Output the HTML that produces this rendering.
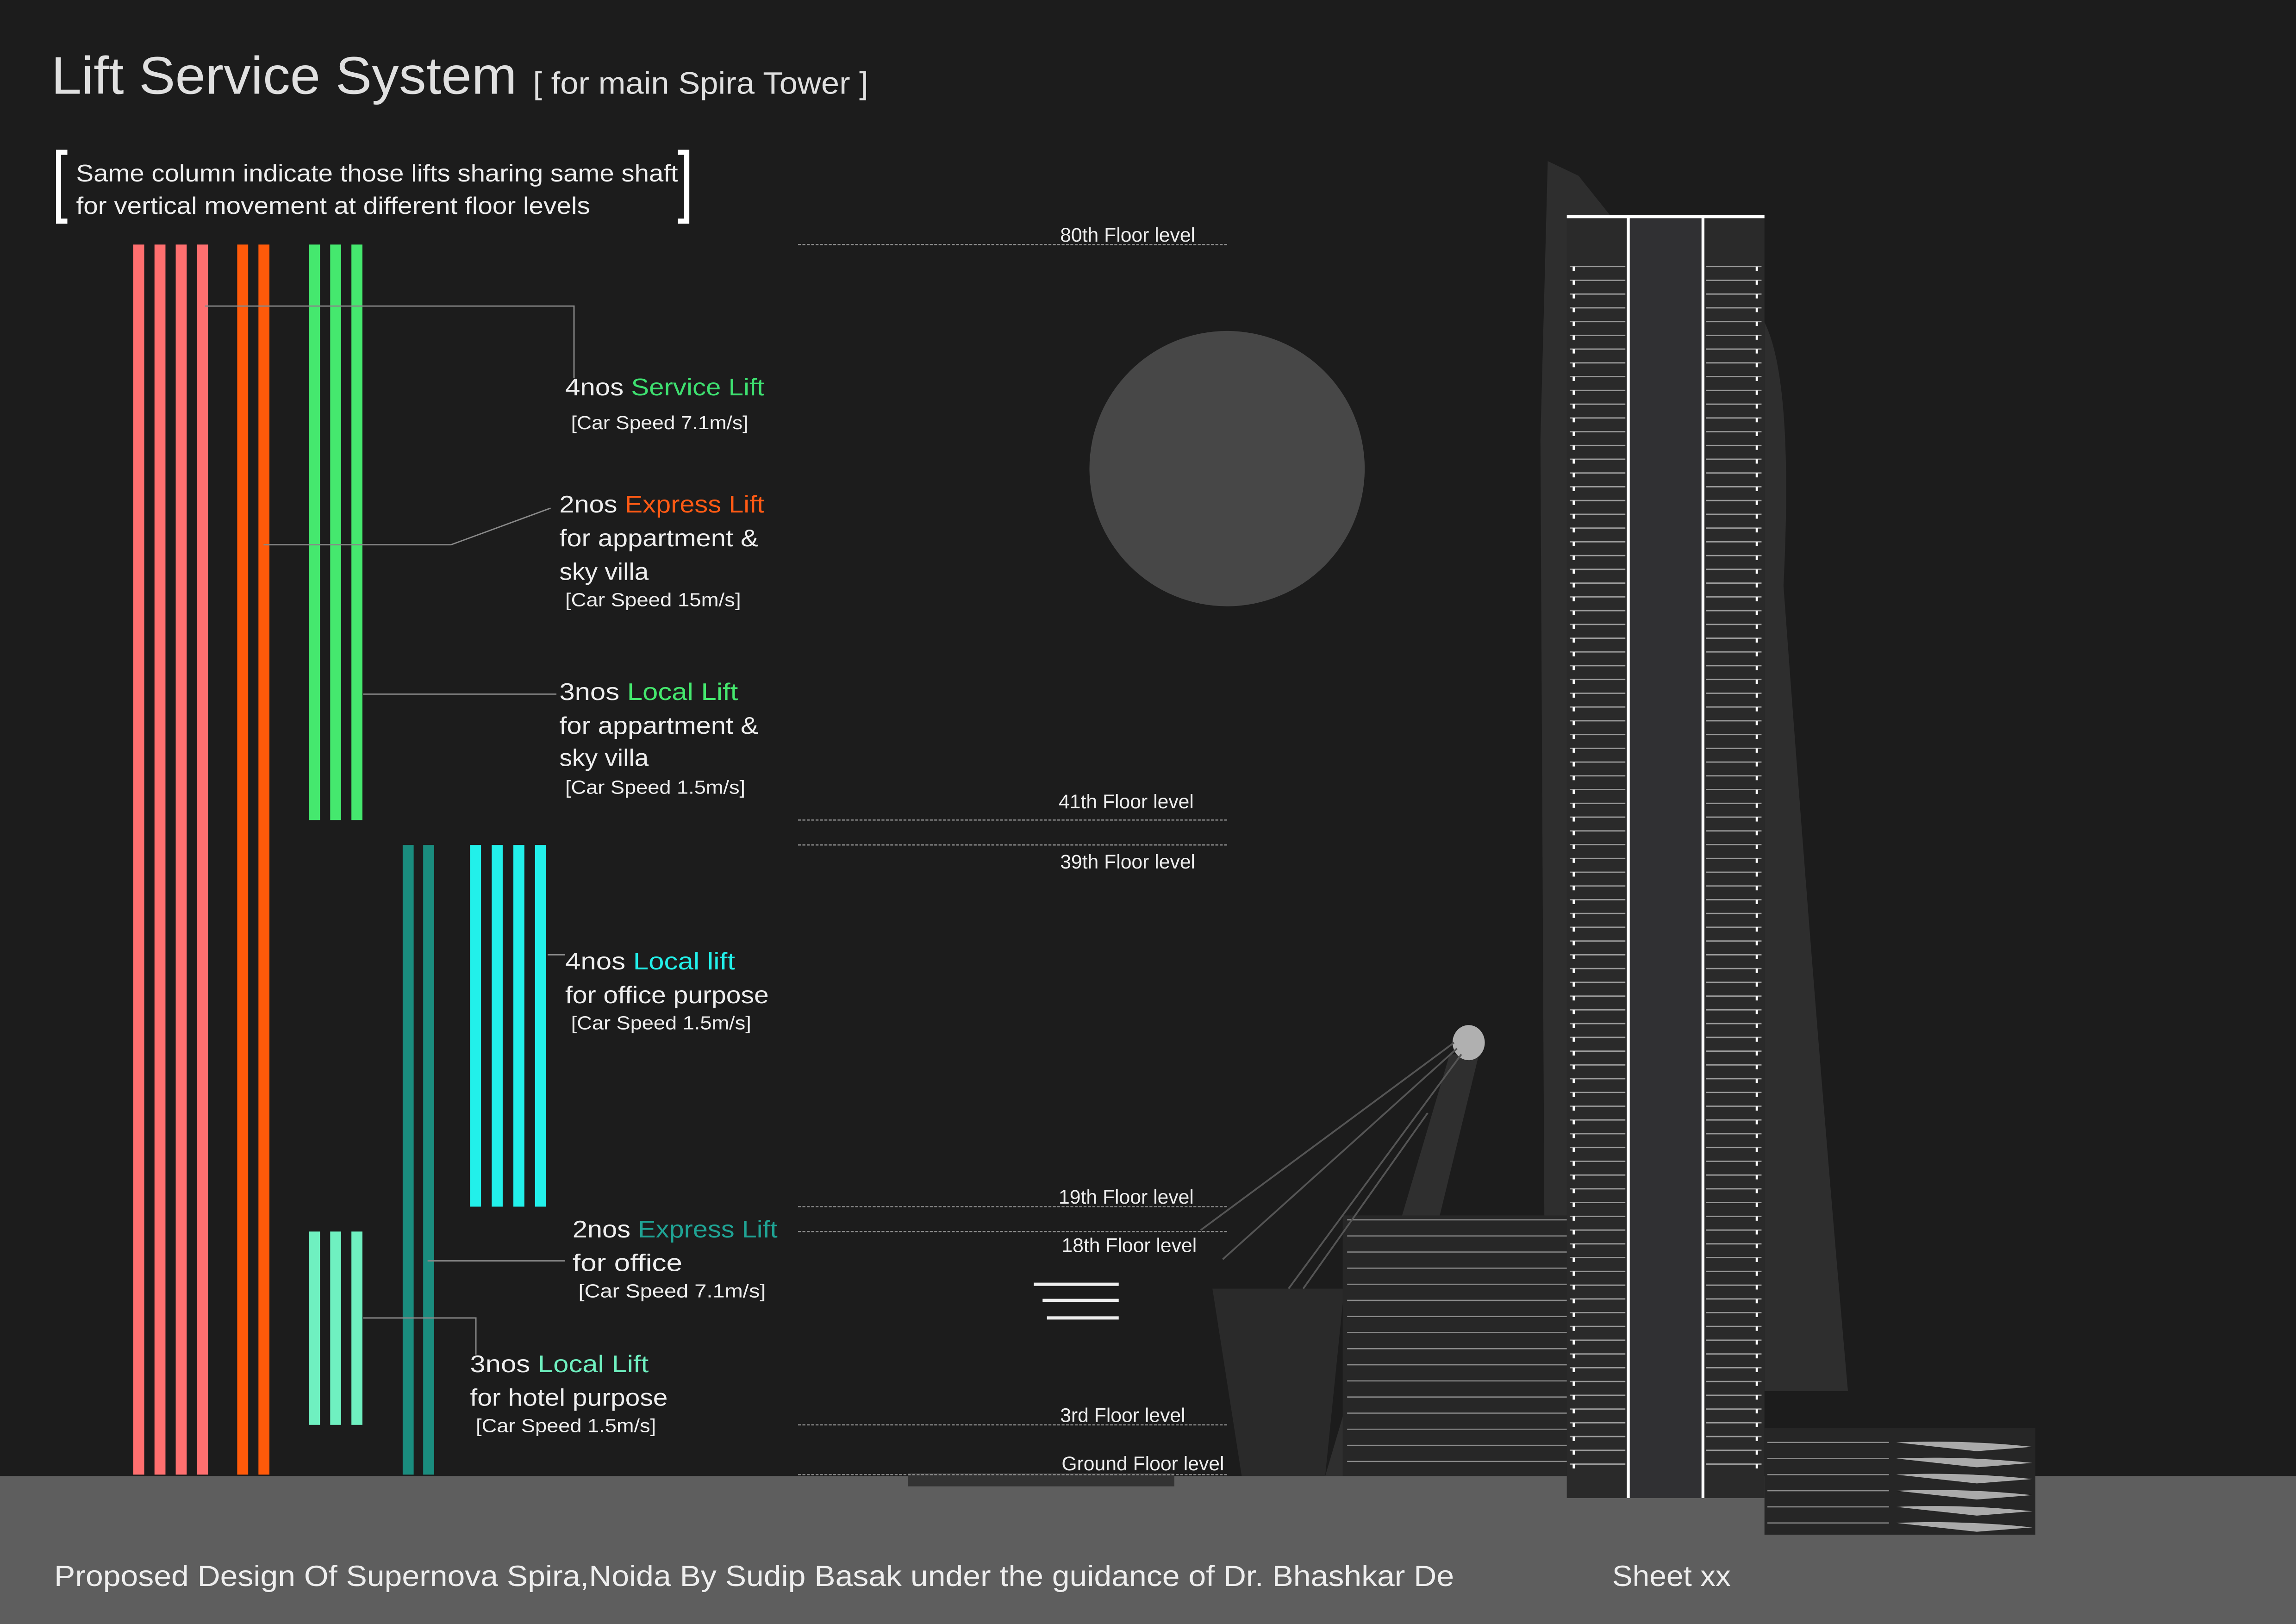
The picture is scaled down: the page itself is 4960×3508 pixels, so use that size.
<!DOCTYPE html>
<html><head><meta charset="utf-8"><style>
html,body{margin:0;padding:0;background:#1c1c1c;}
svg{display:block;}
text{font-family:"Liberation Sans",sans-serif;}
</style></head><body>
<svg id="c" width="4960" height="3508" viewBox="0 0 1568 1109" preserveAspectRatio="none" xmlns="http://www.w3.org/2000/svg">
<rect x="0" y="0" width="1568" height="1109" fill="#1c1c1c"/>
<rect x="0" y="1008" width="1568" height="101" fill="#5e5e5e"/>
<text x="35" y="64" font-size="36" fill="#e0e0e0" textLength="318" lengthAdjust="spacingAndGlyphs">Lift Service System</text>
<text x="364" y="64" font-size="21" fill="#e0e0e0" textLength="229" lengthAdjust="spacingAndGlyphs">[ for main Spira Tower ]</text>
<g>
<path d="M46,104 H40 V151 H46" stroke="#fff" stroke-width="3.5" fill="none"/>
<path d="M463,104 H469 V151 H463" stroke="#fff" stroke-width="3.5" fill="none"/>
<text x="52" y="124" font-size="16.5" fill="#eee" textLength="411" lengthAdjust="spacingAndGlyphs">Same column indicate those lifts sharing same shaft</text>
<text x="52" y="146" font-size="16.5" fill="#eee" textLength="351" lengthAdjust="spacingAndGlyphs">for vertical movement at different floor levels</text>
</g>
<circle cx="838" cy="320" r="94" fill="#474747"/>
<g>
<polygon points="1057,110 1078,120 1110,160 1070,1000 1055,900 1052,300" fill="#2e2e2e"/>
<path d="M1205,220 Q1225,260 1218,400 Q1240,700 1262,950 L1205,950 Z" fill="#2e2e2e"/>
<polygon points="990,720 1010,720 940,1008 905,1008" fill="#2f2f2f"/>
<polygon points="828,880 918,880 905,1008 848,1008" fill="#2a2a2a"/>
</g>
<g id="tower">
<rect x="1070" y="147" width="135" height="876" fill="#2a2a2a"/>
<rect x="1113" y="147" width="50" height="876" fill="#303033"/>
<rect x="917" y="830" width="153" height="178" fill="#272727"/>
<rect x="1205" y="975" width="185" height="73" fill="#262626"/>
<rect x="620" y="1006" width="182" height="9" fill="#333"/>
<line x1="1070" y1="148" x2="1205" y2="148" stroke="#fff" stroke-width="2"/>
<line x1="1112" y1="147" x2="1112" y2="1023" stroke="#fff" stroke-width="2"/>
<line x1="1163" y1="147" x2="1163" y2="1023" stroke="#fff" stroke-width="2"/>
</g>
<g id="tlines"></g>
<ellipse cx="1003" cy="712" rx="11" ry="12" fill="#b0b0b0"/>
<g stroke="#555" stroke-width="1.2">
<line x1="993" y1="712" x2="820" y2="840"/><line x1="995" y1="716" x2="835" y2="860"/>
<line x1="998" y1="720" x2="880" y2="880"/><line x1="975" y1="760" x2="890" y2="880"/>
</g>
<g stroke="#eee" stroke-width="2.2">
<line x1="706" y1="877" x2="764" y2="877"/><line x1="712" y1="888" x2="764" y2="888"/><line x1="715" y1="900" x2="764" y2="900"/>
</g>
<g id="levels"></g>
<g id="bars"></g>
<g stroke="#888" stroke-width="0.9" fill="none">
<polyline points="140,209 392,209 392,258"/>
<polyline points="180,372 308,372 376,347"/>
<polyline points="248,474 380,474"/>
<polyline points="374,652 386,652"/>
<polyline points="292,861 386,861"/>
<polyline points="248,900 325,900 325,925"/>
</g>
<g font-size="16.5" fill="#eee">
<text x="386" y="270" textLength="136" lengthAdjust="spacingAndGlyphs">4nos <tspan fill="#3ee070">Service Lift</tspan></text>
<text x="390" y="293" font-size="13" textLength="121" lengthAdjust="spacingAndGlyphs">[Car Speed 7.1m/s]</text>
<text x="382" y="350" textLength="140" lengthAdjust="spacingAndGlyphs">2nos <tspan fill="#ff5a14">Express Lift</tspan></text>
<text x="382" y="373" textLength="136" lengthAdjust="spacingAndGlyphs">for appartment &amp;</text><text x="382" y="396" textLength="61" lengthAdjust="spacingAndGlyphs">sky villa</text>
<text x="386" y="414" font-size="13" textLength="120" lengthAdjust="spacingAndGlyphs">[Car Speed 15m/s]</text>
<text x="382" y="478" textLength="122" lengthAdjust="spacingAndGlyphs">3nos <tspan fill="#45e86e">Local Lift</tspan></text>
<text x="382" y="501" textLength="136" lengthAdjust="spacingAndGlyphs">for appartment &amp;</text><text x="382" y="523" textLength="61" lengthAdjust="spacingAndGlyphs">sky villa</text>
<text x="386" y="542" font-size="13" textLength="123" lengthAdjust="spacingAndGlyphs">[Car Speed 1.5m/s]</text>
<text x="386" y="662" textLength="116" lengthAdjust="spacingAndGlyphs">4nos <tspan fill="#22f0ea">Local lift</tspan></text>
<text x="386" y="685" textLength="139" lengthAdjust="spacingAndGlyphs">for office purpose</text>
<text x="390" y="703" font-size="13" textLength="123" lengthAdjust="spacingAndGlyphs">[Car Speed 1.5m/s]</text>
<text x="391" y="845" textLength="140" lengthAdjust="spacingAndGlyphs">2nos <tspan fill="#1fa394">Express Lift</tspan></text>
<text x="391" y="868" textLength="75" lengthAdjust="spacingAndGlyphs">for office</text>
<text x="395" y="886" font-size="13" textLength="128" lengthAdjust="spacingAndGlyphs">[Car Speed 7.1m/s]</text>
<text x="321" y="937" textLength="122" lengthAdjust="spacingAndGlyphs">3nos <tspan fill="#6ff0c0">Local Lift</tspan></text>
<text x="321" y="960" textLength="135" lengthAdjust="spacingAndGlyphs">for hotel purpose</text>
<text x="325" y="978" font-size="13" textLength="123" lengthAdjust="spacingAndGlyphs">[Car Speed 1.5m/s]</text>
</g>
<text x="37" y="1083" font-size="20" fill="#eee" textLength="956" lengthAdjust="spacingAndGlyphs">Proposed Design Of Supernova Spira,Noida By Sudip Basak under the guidance of Dr. Bhashkar De</text>
<text x="1101" y="1083" font-size="20" fill="#eee" textLength="81" lengthAdjust="spacingAndGlyphs">Sheet xx</text>
</svg>
<script>
const levelFloors=[0,3,18,19,39,41,80];
const levelLabels=["Ground Floor level","3rd Floor level","18th Floor level","19th Floor level","39th Floor level","41th Floor level","80th Floor level"];
const levelY=[1007,973,841,824,577,560,167];
const liftNames=["service","express-apartment","local-apartment","express-office","local-office","local-hotel"];
const liftCounts=[4,2,3,2,4,3];
const liftFromFloor=[0,0,41,0,19,3];
const liftToFloor=[80,80,80,39,39,18];
const liftColors=["#ff6f6f","#ff5a0a","#45e86e","#1a8c7e","#22f0ea","#6ff0c0"];
const liftStartX=[91,162,211,275,321,211];
const liftGap=[14.5,14.5,14.5,14,14.8,14.5];
function yOf(f){for(let i=0;i<levelFloors.length-1;i++){const a=levelFloors[i],b=levelFloors[i+1];if(f>=a&&f<=b)return levelY[i]+(f-a)/(b-a)*(levelY[i+1]-levelY[i]);}return levelY[levelY.length-1];}
const NS="http://www.w3.org/2000/svg";
const bars=document.getElementById('bars');
liftNames.forEach((n,g)=>{for(let k=0;k<liftCounts[g];k++){
const r=document.createElementNS(NS,'rect');
const y1=yOf(liftToFloor[g]),y2=yOf(liftFromFloor[g]);
r.setAttribute('x',liftStartX[g]+k*liftGap[g]);r.setAttribute('y',y1);r.setAttribute('width',7.5);r.setAttribute('height',y2-y1);r.setAttribute('fill',liftColors[g]);


bars.appendChild(r);}});
const lv=document.getElementById('levels');
const labelDx=[725,724,725,723,724,723,724];
const labelDy=[-3,-2,14,-2,16,-8,-2];
levelFloors.forEach((f,i)=>{
const y=yOf(f);
const l=document.createElementNS(NS,'line');
l.setAttribute('x1',545);l.setAttribute('x2',838);l.setAttribute('y1',y);l.setAttribute('y2',y);l.setAttribute('stroke','#8a8a8a');l.setAttribute('stroke-width','0.8');l.setAttribute('stroke-dasharray','2 1');


lv.appendChild(l);
const t=document.createElementNS(NS,'text');
t.setAttribute('x',labelDx[i]);t.setAttribute('y',y+labelDy[i]);t.setAttribute('font-size','13.5');t.setAttribute('fill','#eee');t.textContent=levelLabels[i];


lv.appendChild(t);});
const tl=document.getElementById('tlines');
let s='';
for(let y=182;y<1000;y+=9.4){s+=`<line x1="1072" x2="1110" y1="${y}" y2="${y}" stroke="#9a9a9a" stroke-width="0.9"/><line x1="1165" x2="1203" y1="${y}" y2="${y}" stroke="#9a9a9a" stroke-width="0.9"/><rect x="1074" y="${y}" width="1.5" height="3" fill="#fff"/><rect x="1199" y="${y}" width="1.5" height="3" fill="#fff"/>`;}
for(let y=833;y<1005;y+=11){s+=`<line x1="920" x2="1070" y1="${y}" y2="${y}" stroke="#8a8a8a" stroke-width="0.8"/>`;}
for(let y=985;y<1048;y+=11){s+=`<line x1="1207" x2="1290" y1="${y}" y2="${y}" stroke="#8a8a8a" stroke-width="0.8"/><path d="M1295,${y} Q1340,${y-2} 1388,${y+3} L1350,${y+6} Z" fill="#aaa"/>`;}
tl.innerHTML=s;
</script>
</body></html>
